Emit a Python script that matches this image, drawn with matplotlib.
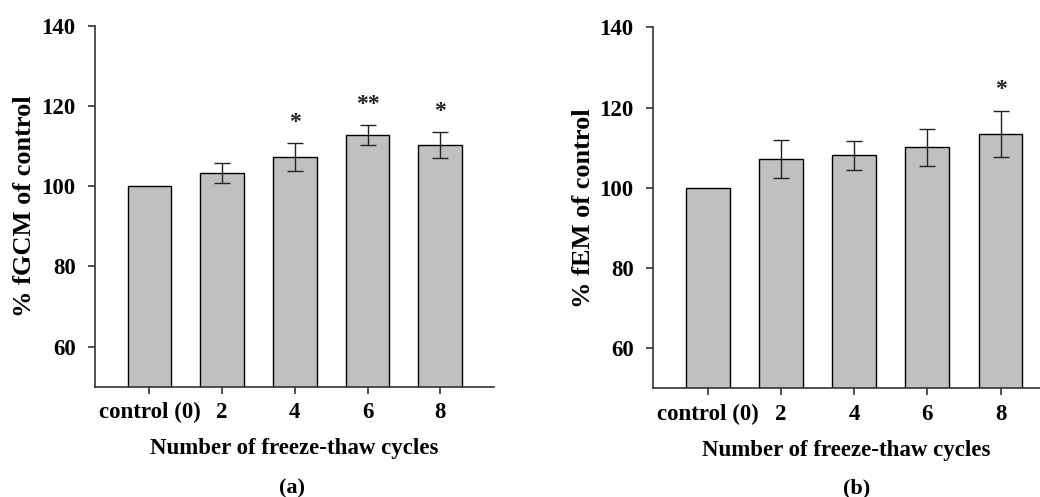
import matplotlib
matplotlib.use("Agg")
import matplotlib.pyplot as plt

plt.rcParams['font.family'] = ['Liberation Serif', 'DejaVu Serif']
plt.rcParams['font.weight'] = 'bold'

categories = ["control (0)", "2", "4", "6", "8"]

# panel (a): fGCM
gcm_values = [100, 103.2, 107.2, 112.7, 110.2]
gcm_errors = [0, 2.5, 3.5, 2.5, 3.25]
gcm_stars = ["", "", "*", "**", "*"]

# panel (b): fEM
em_values = [100, 107.1, 108.1, 110.1, 113.4]
em_errors = [0, 4.75, 3.6, 4.65, 5.8]
em_stars = ["", "", "", "", "*"]

fig = plt.figure(figsize=(10.4, 4.97), dpi=100)
ax_a = fig.add_axes([0.0913, 0.222, 0.3837, 0.7257])
ax_b = fig.add_axes([0.628, 0.2187, 0.372, 0.7263])


def draw_panel(ax, values, errors, stars, ylabel, xmax):
    x = list(range(len(categories)))
    yerr = [e if e > 0 else float('nan') for e in errors]
    ax.bar(x, values, width=0.6, color='#c0c0c0', edgecolor='black', linewidth=1.0, zorder=2)
    ax.errorbar(x, values, yerr=yerr, fmt='none', ecolor='#222222', elinewidth=1.0,
                capsize=6, capthick=1.0, zorder=3)
    for xi, v, e, s in zip(x, values, errors, stars):
        if s:
            ax.text(xi, v + e + 5.3, s, ha='center', va='center', fontsize=17, color='#222222')
    ax.set_xlim(-0.75, xmax)
    ax.set_ylim(50, 140)
    ax.set_yticks([60, 80, 100, 120, 140])
    ax.set_xticks(x)
    ax.set_xticklabels(categories)
    ax.spines['top'].set_visible(False)
    ax.spines['right'].set_visible(False)
    for sp in ('left', 'bottom'):
        ax.spines[sp].set_color('#333333')
        ax.spines[sp].set_linewidth(1.2)
    ax.tick_params(axis='y', direction='out', length=5, width=1.2, color='#333333',
                   labelsize=16.5, pad=9)
    ax.tick_params(axis='x', direction='out', length=5, width=1.2, color='#333333',
                   labelsize=16.5, pad=6)
    for lab in ax.get_xticklabels() + ax.get_yticklabels():
        lab.set_fontweight('bold')
    ax.set_ylabel(ylabel, fontsize=19, fontweight='bold', labelpad=3.5)
    ax.set_xlabel("Number of freeze-thaw cycles", fontsize=16.5, fontweight='bold', labelpad=11)


draw_panel(ax_a, gcm_values, gcm_errors, gcm_stars, "% fGCM of control", 4.74)
draw_panel(ax_b, em_values, em_errors, em_stars, "% fEM of control", 4.54)

fig.text(292 / 1040, 1 - 488 / 497, "(a)", ha='center', va='center', fontsize=16, fontweight='bold')
fig.text(857 / 1040, 1 - 488 / 497, "(b)", ha='center', va='center', fontsize=16, fontweight='bold')

fig.savefig("out.png", dpi=100)
